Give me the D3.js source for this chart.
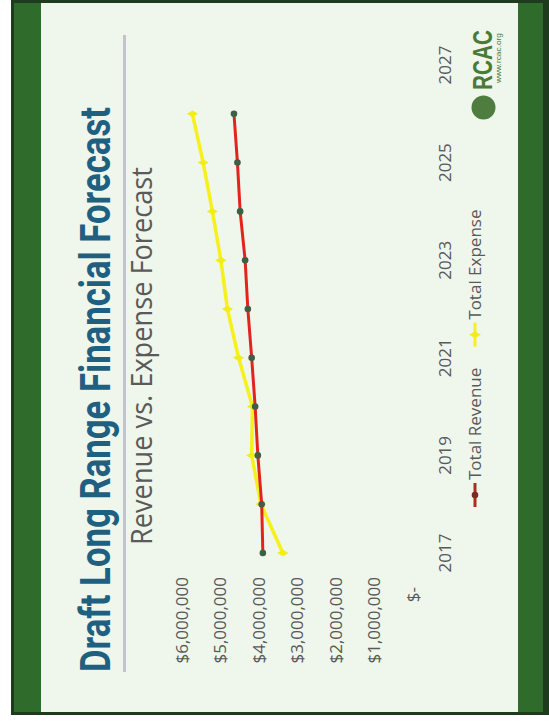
<!DOCTYPE html>
<html>
<head>
<meta charset="utf-8">
<script src="https://cdn.jsdelivr.net/npm/d3@7"></script>
<style>
  html, body { margin: 0; padding: 0; background: #ffffff; }
  svg { display: block; }
</style>
</head>
<body>
<svg id="chart" width="549" height="721"></svg>
<script>
// ---- data ----
const years = [2017, 2018, 2019, 2020, 2021, 2022, 2023, 2024, 2025, 2026, 2027];
const totalRevenue = [3900000, 3930000, 4030000, 4100000, 4190000, 4290000, 4360000, 4490000, 4560000, 4650000, null];
const totalExpense = [3380000, 3950000, 4190000, 4170000, 4530000, 4820000, 4990000, 5210000, 5450000, 5730000, null];
const yTickValues = [0, 1000000, 2000000, 3000000, 4000000, 5000000, 6000000];
const xTickLabels = [2017, 2019, 2021, 2023, 2025, 2027];
const seriesNames = ["Total Revenue", "Total Expense"];
const titleText = "Draft Long Range Financial Forecast";
const subtitleText = "Revenue vs. Expense Forecast";

const svg = d3.select("#chart");
const W = 549, H = 721;

// ---- slide frame (page coordinates) ----
svg.append("rect").attr("x", 11).attr("y", -2).attr("width", 545).attr("height", 717).attr("fill", "#1f3b1d");
svg.append("rect").attr("x", 14).attr("y", 3).attr("width", 28).attr("height", 709).attr("fill", "#2f6b2a");
svg.append("rect").attr("x", 518).attr("y", 3).attr("width", 25).attr("height", 709).attr("fill", "#2f6b2a");
svg.append("rect").attr("x", 41).attr("y", 3).attr("width", 477).attr("height", 709).attr("fill", "#eff6ec");

// ---- rotated slide content ----
const g = svg.append("g").attr("transform", `translate(0,${H}) rotate(-90)`);

// title
g.append("text")
  .attr("x", 49).attr("y", 110)
  .attr("textLength", 565).attr("lengthAdjust", "spacingAndGlyphs")
  .style("font-family", "'Liberation Sans Narrow', 'Arial Narrow', Roboto, 'Liberation Sans', sans-serif")
  .style("font-weight", "bold").style("font-size", "42px")
  .attr("fill", "#1f5f80")
  .text(titleText);

// gray rule
g.append("line")
  .attr("x1", 49).attr("x2", 686).attr("y1", 124.5).attr("y2", 124.5)
  .attr("stroke", "#c3c4cb").attr("stroke-width", 3);

// subtitle
g.append("text")
  .attr("x", 176).attr("y", 152)
  .attr("textLength", 378).attr("lengthAdjust", "spacingAndGlyphs")
  .style("font-family", "'Open Sans', sans-serif").style("font-size", "30px")
  .attr("fill", "#5a5a5a")
  .text(subtitleText);

// scales
const x = d3.scaleBand().domain(years).range([143.6, 680.4]);
const cx = d => x(d) + x.bandwidth() / 2;
const y = d3.scaleLinear().domain([0, 6000000]).range([413, 182]);

const labelFont = "'Open Sans', sans-serif";

// y axis
const yAxis = g.append("g").attr("transform", "translate(144,0)")
  .call(d3.axisLeft(y).tickValues(yTickValues).tickSize(0).tickPadding(0)
    .tickFormat(d => d === 0 ? "$-" : d3.format("$,")(d)));
yAxis.select(".domain").remove();
yAxis.selectAll("text")
  .style("font-family", labelFont).style("font-size", "17px").attr("fill", "#595959")
  .attr("dx", d => d === 0 ? -10 : 0);

// x axis
const xAxis = g.append("g").attr("transform", "translate(0,439)")
  .call(d3.axisBottom(x).tickValues(xTickLabels).tickSize(0).tickPadding(0));
xAxis.select(".domain").remove();
xAxis.selectAll("text")
  .style("font-family", labelFont).style("font-size", "17px").attr("fill", "#595959");

// lines
const line = d3.line().defined(d => d[1] != null).x(d => cx(d[0])).y(d => y(d[1]));
const revPts = years.map((yr, i) => [yr, totalRevenue[i]]);
const expPts = years.map((yr, i) => [yr, totalExpense[i]]);

g.append("path").datum(expPts).attr("d", line)
  .attr("fill", "none").attr("stroke", "#f6f01c").attr("stroke-width", 3.5)
  .attr("stroke-linejoin", "round");
g.selectAll(".expDot").data(expPts.filter(d => d[1] != null)).enter().append("path")
  .attr("transform", d => `translate(${cx(d[0])},${y(d[1])})`)
  .attr("d", d3.symbol().type(d3.symbolDiamond).size(36))
  .attr("fill", "#f2ec1a");

g.append("path").datum(revPts).attr("d", line)
  .attr("fill", "none").attr("stroke", "#e3241d").attr("stroke-width", 3)
  .attr("stroke-linejoin", "round");
g.selectAll(".revDot").data(revPts.filter(d => d[1] != null)).enter().append("circle")
  .attr("cx", d => cx(d[0])).attr("cy", d => y(d[1])).attr("r", 3.3)
  .attr("fill", "#3d5f46");

// legend
const legendStyles = [
  { line: "#b02a20", marker: "#7a2c20", shape: "circle" },
  { line: "#f6f01c", marker: "#f2ec1a", shape: "diamond" }
];
let lx = 214;
const ly = 475;
seriesNames.forEach((name, i) => {
  const st = legendStyles[i];
  g.append("line").attr("x1", lx).attr("x2", lx + 24).attr("y1", ly).attr("y2", ly)
    .attr("stroke", st.line).attr("stroke-width", 3);
  if (st.shape === "circle") {
    g.append("circle").attr("cx", lx + 12).attr("cy", ly).attr("r", 3.3).attr("fill", st.marker);
  } else {
    g.append("path").attr("transform", `translate(${lx + 12},${ly})`)
      .attr("d", d3.symbol().type(d3.symbolDiamond).size(40)).attr("fill", st.marker);
  }
  const t = g.append("text").attr("x", lx + 27).attr("y", ly + 6)
    .style("font-family", labelFont).style("font-size", "17px").attr("fill", "#595959")
    .text(name);
  lx += 27 + t.node().getComputedTextLength() + 21;
});

// logo
g.append("circle").attr("cx", 613.5).attr("cy", 483.5).attr("r", 12).attr("fill", "#4f7d3f");
g.append("text").attr("x", 631).attr("y", 492)
  .attr("textLength", 60).attr("lengthAdjust", "spacingAndGlyphs")
  .style("font-family", "'Liberation Sans', Arial, sans-serif").style("font-weight", "bold").style("font-size", "28px")
  .attr("fill", "#4a7a38").text("RCAC");
g.append("text").attr("x", 638).attr("y", 501)
  .attr("textLength", 50).attr("lengthAdjust", "spacingAndGlyphs")
  .style("font-family", "'Liberation Sans', Arial, sans-serif").style("font-size", "7px")
  .attr("fill", "#4a7a38").text("www.rcac.org");
</script>
</body>
</html>
